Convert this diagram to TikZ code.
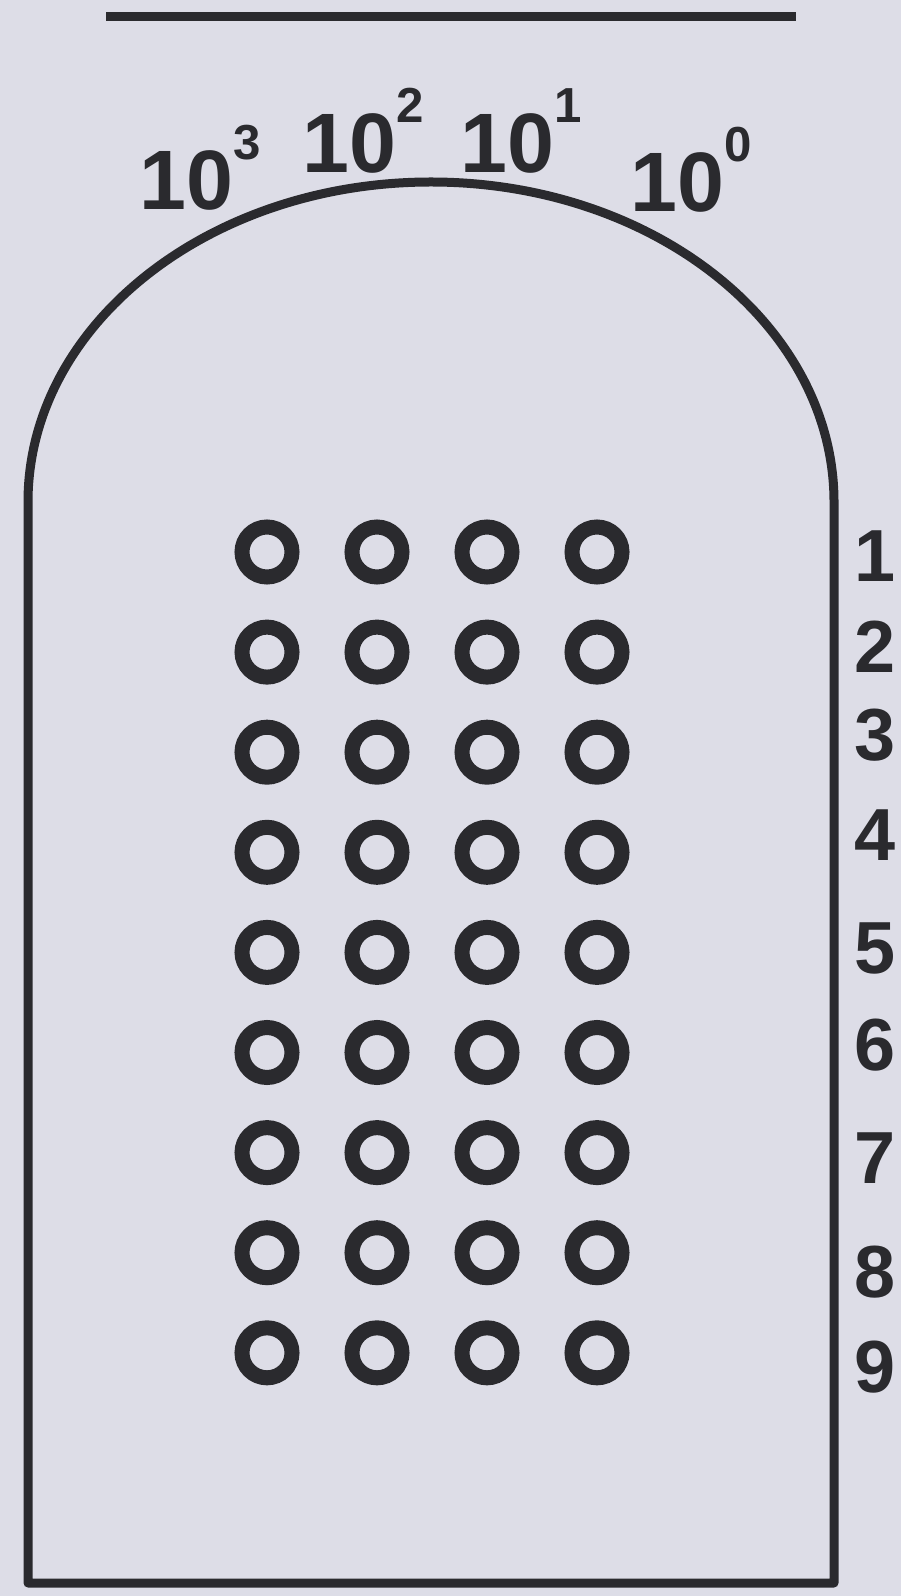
\documentclass[tikz,border=0pt]{standalone}
\usepackage{fontspec}
\setmainfont{Liberation Sans}
\definecolor{papel}{HTML}{DDDDE7}
\definecolor{tinta}{HTML}{2A2A2E}
\newcommand{\pot}[1]{10\raisebox{14.5pt}{\fontsize{14}{14}\selectfont #1}}

\begin{document}
\begin{tikzpicture}[x=0.1mm, y=-0.1mm, font=\bfseries,
    hueco/.style={circle, draw=tinta, line width=1.5mm, minimum size=5mm, inner sep=0pt},
    fila/.style={tinta, inner sep=0pt, anchor=base, font=\fontsize{21}{21}\selectfont\bfseries},
    exp/.style={tinta, inner sep=0pt, anchor=base west, font=\fontsize{24}{24}\selectfont\bfseries}]
        \fill[papel] (0,0) rectangle (901,1596);
        \useasboundingbox (0,0) rectangle (901,1596);
        \draw[tinta, line width=0.9mm] (106,17) -- (796,17);
        \draw[tinta, line width=0.9mm, line join=round]
            (28,1583) -- (28,502) arc[start angle=180, end angle=360, x radius=403, y radius=320]
            -- (834,1583) -- cycle;
        \foreach \r in {1,...,9}
          \foreach \c in {1,...,4}
            \node[hueco] (h\r\c) at ({267+110*(\c-1)},{552+100.1*(\r-1)}) {};
        \foreach \n/\y in {1/582,2/672,3/760,4/860,5/973,6/1070,7/1183,8/1297,9/1392}
            \node[fila] (f\n) at (875,\y) {\n};
        \node[exp] (p3) at (139,210) {\pot{3}};
        \node[exp] (p2) at (302,173) {\pot{2}};
        \node[exp] (p1) at (460,173) {\pot{1}};
        \node[exp] (p0) at (630,212) {\pot{0}};
      \end{tikzpicture}
\end{document}
